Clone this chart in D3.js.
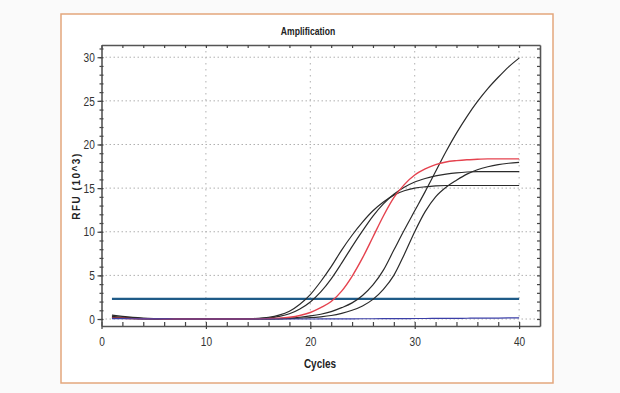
<!DOCTYPE html>
<html>
<head>
<meta charset="utf-8">
<script src="https://cdn.jsdelivr.net/npm/d3@7/dist/d3.min.js"></script>
<style>
  html, body { margin: 0; padding: 0; background: #fafafa; }
  svg { display: block; }
  .tick-label { font-family: "Liberation Sans", Arial, sans-serif; font-size: 13px; fill: #333; }
  .title { font-family: "Liberation Sans", Arial, sans-serif; font-weight: bold; fill: #222; }
</style>
</head>
<body>
<svg id="chart" width="620" height="393"></svg>
<script>
// cycles read along the x axis
var cycles = [1, 2, 3, 4, 5, 6, 7, 8, 9, 10, 11, 12, 13, 14, 15, 16, 17, 18, 19, 20,
    21, 22, 23, 24, 25, 26, 27, 28, 29, 30, 31, 32, 33, 34, 35, 36, 37, 38, 39, 40];

// RFU (10^3) per cycle
var sampleA = [0.45, 0.3, 0.18, 0.1, 0.05, 0.02, 0, 0, 0, 0, 0, 0, 0, 0.03, 0.08, 0.2, 0.45, 0.9, 1.7, 2.8,
    4.3, 6.0, 7.9, 9.6, 11.1, 12.4, 13.4, 14.2, 14.7, 15.0, 15.15, 15.25, 15.3, 15.3, 15.3, 15.3, 15.3, 15.3, 15.3, 15.3];
var sampleB = [0.3, 0.2, 0.12, 0.06, 0.02, 0, 0, 0, 0, 0, 0, 0, 0, 0.02, 0.05, 0.12, 0.3, 0.6, 1.15, 1.95,
    3.1, 4.6, 6.4, 8.3, 10.1, 11.8, 13.2, 14.3, 15.1, 15.7, 16.1, 16.4, 16.6, 16.75, 16.85, 16.9, 16.9, 16.9, 16.9, 16.9];
var sampleRed = [0.1, 0.08, 0.05, 0.03, 0.02, 0, 0, 0, 0, 0, 0, 0, 0, 0, 0.02, 0.05, 0.1, 0.2, 0.4, 0.75,
    1.3, 2.0, 3.2, 4.9, 7.0, 9.4, 11.8, 13.9, 15.4, 16.5, 17.2, 17.7, 18.0, 18.15, 18.25, 18.3, 18.35, 18.35, 18.35, 18.35];
var sampleD = [0.2, 0.12, 0.06, 0.03, 0.01, 0, 0, 0, 0, 0, 0, 0, 0, 0, 0, 0, 0.05, 0.1, 0.2, 0.35,
    0.55, 0.85, 1.3, 1.85, 2.7, 3.9, 5.6, 7.9, 10.2, 12.4, 14.6, 16.9, 19.2, 21.3, 23.2, 24.9, 26.4, 27.7, 28.9, 29.9];
var sampleE = [0.15, 0.1, 0.05, 0.02, 0, 0, 0, 0, 0, 0, 0, 0, 0, 0, 0, 0, 0, 0.05, 0.1, 0.15,
    0.25, 0.4, 0.65, 1.0, 1.5, 2.25, 3.4, 5.0, 7.4, 10.0, 12.3, 14.0, 15.1, 15.9, 16.6, 17.1, 17.45, 17.7, 17.85, 17.95];
var negControl = [0.05, 0.04, 0.03, 0.02, 0.02, 0.01, 0, 0, 0, 0, 0, 0, 0, 0, 0, 0, 0, 0, 0, 0,
    0.01, 0.01, 0.02, 0.02, 0.03, 0.03, 0.04, 0.05, 0.05, 0.06, 0.06, 0.07, 0.08, 0.08, 0.09, 0.1, 0.1, 0.11, 0.12, 0.12];
var threshold = 2.3;

var xTicks = [0, 10, 20, 30, 40];
var yTicks = [0, 5, 10, 15, 20, 25, 30];

var series = [
    { values: sampleA, color: '#2b2b2b', width: 1.2 },
    { values: sampleB, color: '#2b2b2b', width: 1.2 },
    { values: sampleD, color: '#2b2b2b', width: 1.2 },
    { values: sampleE, color: '#2b2b2b', width: 1.2 },
    { values: sampleRed, color: '#e5434f', width: 1.4 },
    { values: negControl, color: '#3b3fa8', width: 1.2 }
];

var narrow = 'scale(0.78,1)'; // stands in for the condensed face of the original

var svg = d3.select('#chart');

// frame
svg.append('rect')
    .attr('x', 61).attr('y', 14)
    .attr('width', 492).attr('height', 369)
    .attr('fill', '#fff')
    .attr('stroke', '#e3a77c')
    .attr('stroke-width', 1.5);

var plot = { left: 101.5, right: 540, top: 45, bottom: 326 };

var x = d3.scaleLinear().domain([0, 42]).range([plot.left, plot.right]);
var y = d3.scaleLinear().domain([-0.8, 31.4]).range([plot.bottom, plot.top]);

// dotted grid
svg.append('g').selectAll('line')
    .data(yTicks)
    .join('line')
    .attr('x1', plot.left).attr('x2', plot.right)
    .attr('y1', function (d) { return y(d); })
    .attr('y2', function (d) { return y(d); })
    .attr('stroke', '#b0b0b0')
    .attr('stroke-width', 1)
    .attr('stroke-dasharray', '1.5,2.5');

svg.append('g').selectAll('line')
    .data(xTicks.slice(1))
    .join('line')
    .attr('x1', function (d) { return x(d); })
    .attr('x2', function (d) { return x(d); })
    .attr('y1', plot.top).attr('y2', plot.bottom)
    .attr('stroke', '#b0b0b0')
    .attr('stroke-width', 1)
    .attr('stroke-dasharray', '1.5,4.5');

// threshold
svg.append('line')
    .attr('x1', x(1)).attr('x2', x(40))
    .attr('y1', y(threshold)).attr('y2', y(threshold))
    .attr('stroke', '#1f5b88')
    .attr('stroke-width', 2.2);

// curves
var line = d3.line()
    .x(function (d, i) { return x(cycles[i]); })
    .y(function (d) { return y(d); })
    .curve(d3.curveMonotoneX);

svg.append('g').selectAll('path')
    .data(series)
    .join('path')
    .attr('d', function (s) { return line(s.values); })
    .attr('fill', 'none')
    .attr('stroke', function (s) { return s.color; })
    .attr('stroke-width', function (s) { return s.width; });

// axes, minor ticks every 2 cycles and every 1 RFU
var minorX = d3.range(0, 42, 2);
var minorY = d3.range(0, 32, 1);

function frameAxis(axis) {
    return function (g) {
        g.call(axis);
        g.select('.domain').attr('stroke', '#555').attr('stroke-width', 1.6);
        g.selectAll('.tick line').attr('stroke', '#444').attr('stroke-width', 1.2);
        g.selectAll('.tick text')
            .attr('class', 'tick-label')
            .attr('font-family', null).attr('font-size', null);
    };
}

svg.append('g')
    .attr('transform', 'translate(0,' + plot.bottom + ')')
    .call(frameAxis(d3.axisBottom(x).tickValues(minorX).tickSize(-4).tickSizeOuter(0).tickFormat('')));
var xLab = svg.append('g')
    .attr('transform', 'translate(0,' + plot.bottom + ')')
    .call(frameAxis(d3.axisBottom(x).tickValues(xTicks).tickSize(3).tickSizeOuter(0).tickPadding(8)));
xLab.select('.domain').remove();
xLab.selectAll('.tick text').attr('transform', narrow);

svg.append('g')
    .attr('transform', 'translate(0,' + plot.top + ')')
    .call(frameAxis(d3.axisTop(x).tickValues(minorX).tickSize(-3).tickSizeOuter(0).tickFormat('')));

svg.append('g')
    .attr('transform', 'translate(' + plot.left + ',0)')
    .call(frameAxis(d3.axisLeft(y).tickValues(minorY).tickSize(2).tickSizeOuter(0).tickFormat('')));
svg.append('g')
    .attr('transform', 'translate(' + plot.left + ',0)')
    .call(frameAxis(d3.axisLeft(y).tickValues(minorY).tickSize(-2).tickSizeOuter(0).tickFormat('')))
    .select('.domain').remove();
var yLab = svg.append('g')
    .attr('transform', 'translate(' + plot.left + ',0)')
    .call(frameAxis(d3.axisLeft(y).tickValues(yTicks).tickSize(4).tickSizeOuter(0).tickPadding(3)));
yLab.select('.domain').remove();
yLab.selectAll('.tick text').attr('x', -8.5).attr('transform', narrow);

svg.append('g')
    .attr('transform', 'translate(' + plot.right + ',0)')
    .call(frameAxis(d3.axisRight(y).tickValues(minorY).tickSize(-3).tickSizeOuter(0).tickFormat('')));

// texts
svg.append('text')
    .attr('class', 'title')
    .attr('transform', 'translate(308,35) scale(0.78,1)')
    .attr('text-anchor', 'middle')
    .style('font-size', '11px')
    .text('Amplification');

svg.append('text')
    .attr('class', 'title')
    .attr('transform', 'translate(320,368) scale(0.8,1)')
    .attr('text-anchor', 'middle')
    .style('font-size', '12.5px')
    .text('Cycles');

svg.append('text')
    .attr('class', 'title')
    .attr('transform', 'translate(80,186) rotate(-90)')
    .attr('text-anchor', 'middle')
    .style('font-size', '10px')
    .style('letter-spacing', '1.5px')
    .text('RFU (10^3)');
</script>
</body>
</html>
